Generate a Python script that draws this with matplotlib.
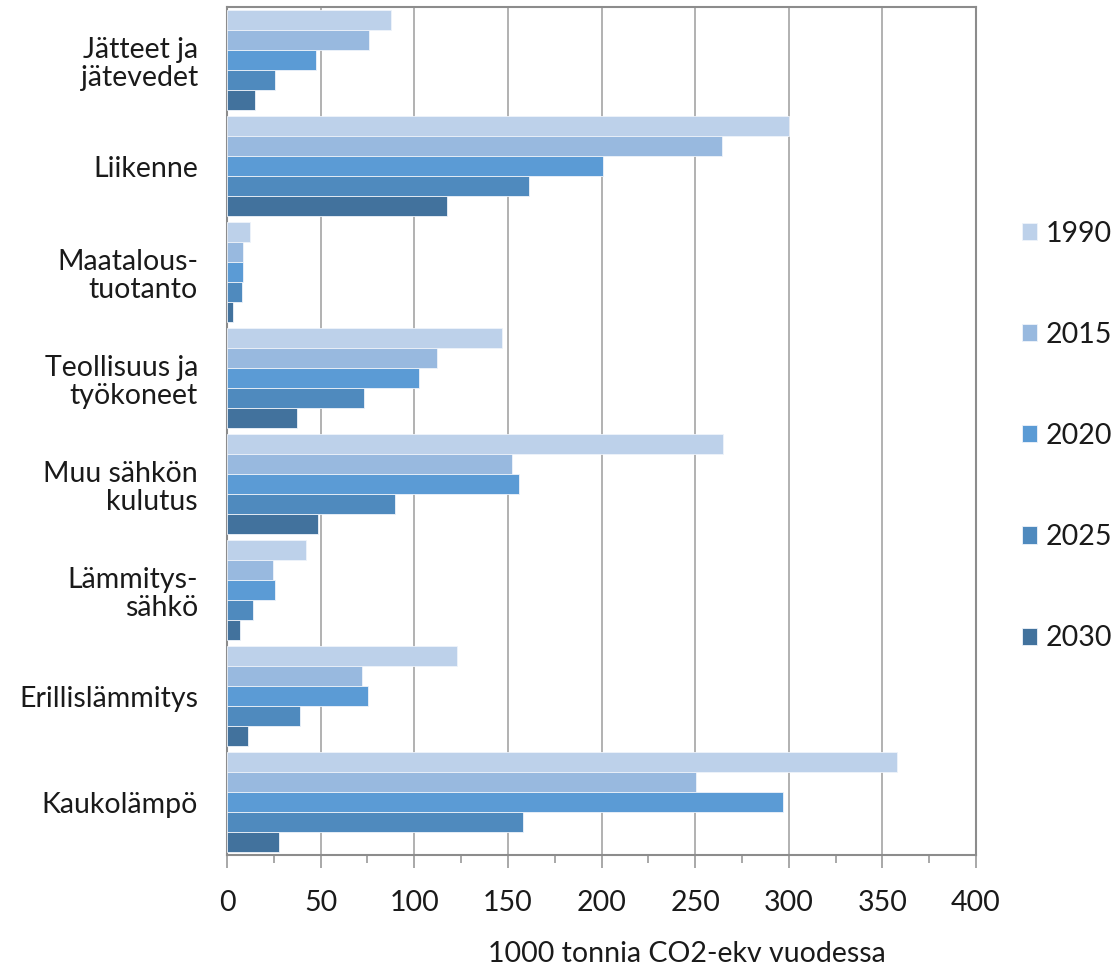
import numpy as np
import matplotlib.pyplot as plt
from matplotlib.ticker import MultipleLocator

plt.rcParams['font.family'] = ['Lato', 'DejaVu Sans']

categories = ['Jätteet ja\njätevedet', 'Liikenne', 'Maatalous-\ntuotanto',
              'Teollisuus ja\ntyökoneet', 'Muu sähkön\nkulutus', 'Lämmitys-\nsähkö',
              'Erillislämmitys', 'Kaukolämpö']
years = ['1990', '2015', '2020', '2025', '2030']

# 1000 tonnia CO2-ekv
v1990 = [87.6, 300.2, 12.0, 147.0, 265.0, 42.3, 122.9, 357.7]
v2015 = [75.7, 264.2, 8.5, 112.3, 152.3, 24.5, 71.9, 250.3]
v2020 = [47.5, 200.7, 8.7, 102.3, 155.8, 25.7, 75.1, 296.8]
v2025 = [25.7, 161.1, 7.9, 73.1, 89.6, 13.9, 38.8, 158.0]
v2030 = [14.7, 117.6, 3.3, 37.1, 48.4, 6.7, 11.4, 27.9]
series = [v1990, v2015, v2020, v2025, v2030]

colors = ['#BDD1EA', '#98B9DF', '#5B9BD5', '#4F8ABE', '#42729D']
text_col = '#1a1a1a'

fig = plt.figure(figsize=(11.19, 9.66), dpi=100)
ax = fig.add_axes([0.2029, 0.1149, 0.6693, 0.8778])

y = np.arange(len(categories))
h = 0.189
for i, (vals, col, yr) in enumerate(zip(series, colors, years)):
    ax.barh(y - 2 * h + i * h, vals, height=h, color=col, label=yr,
            edgecolor='#EEF3FA', linewidth=0.6, zorder=3)

ax.set_ylim(len(categories) - 0.5, -0.5)
ax.set_xlim(0, 400)
ax.set_yticks(y)
ax.set_yticklabels(categories, fontsize=20.5, color=text_col, linespacing=1.12)
ax.tick_params(axis='y', length=0, pad=21)

ax.xaxis.set_major_locator(MultipleLocator(50))
ax.xaxis.set_minor_locator(MultipleLocator(25))
ax.tick_params(axis='x', which='major', length=9, width=1.2, color='#9a9a9a',
               labelsize=20.5, pad=16, labelcolor=text_col)
ax.tick_params(axis='x', which='minor', length=6, width=1.2, color='#9a9a9a')
ax.grid(axis='x', which='major', color='#ABABAB', linewidth=1.3, zorder=0)
ax.set_axisbelow(True)
for s in ax.spines.values():
    s.set_color('#8C8C8C')
    s.set_linewidth(1.5)

# axis title sits right of centre in the original
ax.set_xlabel('1000 tonnia CO2-ekv vuodessa', fontsize=20.5, color=text_col)
ax.xaxis.set_label_coords(0.614, -0.101)

ax.legend(loc='center left', bbox_to_anchor=(0.913, 0.5487),
          bbox_transform=fig.transFigure, frameon=False, fontsize=20.5,
          handlelength=0.55, handleheight=0.55, handletextpad=0.3,
          labelspacing=2.64, borderpad=0, borderaxespad=0,
          labelcolor=text_col)

fig.savefig('out.png', dpi=100)
